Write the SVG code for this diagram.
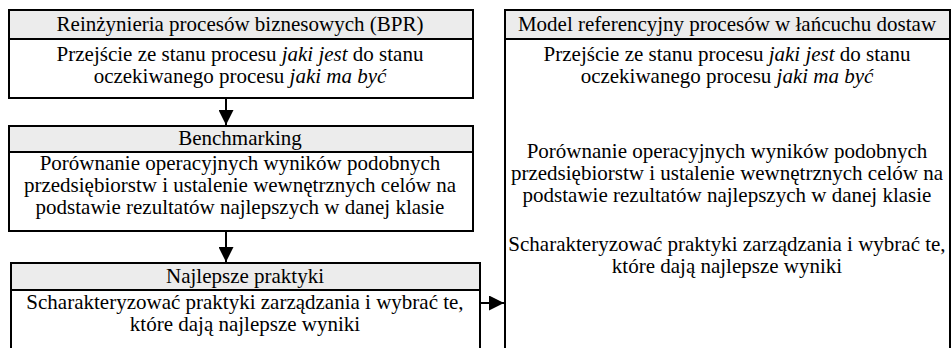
<svg xmlns="http://www.w3.org/2000/svg" width="951" height="348" viewBox="0 0 951 348">
  <style>
    .box { fill: #ffffff; stroke: #000000; stroke-width: 2; }
    .head { fill: #ececec; stroke: #000000; stroke-width: 2; }
    .t { font-family: "Liberation Serif", "Times New Roman", serif; font-size: 21px; fill: #000000; text-anchor: middle; }
    .i { font-style: italic; }
    .edge { stroke: #000000; stroke-width: 2; fill: none; }
  </style>
  <defs>
    <marker id="arrow" viewBox="0 0 10 10" refX="10" refY="5" markerWidth="7.5" markerHeight="7.5" markerUnits="strokeWidth" orient="auto">
      <path d="M0,0 L10,5 L0,10 Z" fill="#000000"/>
    </marker>
  </defs>

  <g id="bpr">
    <rect class="box" x="9" y="10" width="464" height="88"/>
    <rect class="head" x="9" y="10" width="464" height="29"/>
    <text class="t" x="240" y="31">Reinżynieria procesów biznesowych (BPR)</text>
    <text class="t" x="240" y="61">Przejście ze stanu procesu <tspan class="i">jaki jest</tspan> do stanu</text>
    <text class="t" x="240" y="83">oczekiwanego procesu <tspan class="i">jaki ma być</tspan></text>
  </g>

  <g id="benchmarking">
    <rect class="box" x="9" y="126" width="464" height="105"/>
    <rect class="head" x="9" y="126" width="464" height="26"/>
    <text class="t" x="240" y="145">Benchmarking</text>
    <text class="t" x="240" y="170">Porównanie operacyjnych wyników podobnych</text>
    <text class="t" x="240" y="192">przedsiębiorstw i ustalenie wewnętrznych celów na</text>
    <text class="t" x="240" y="214">podstawie rezultatów najlepszych w danej klasie</text>
  </g>

  <g id="best-practices">
    <rect class="box" x="11" y="263" width="469" height="100"/>
    <rect class="head" x="11" y="263" width="469" height="27"/>
    <text class="t" x="245" y="283">Najlepsze praktyki</text>
    <text class="t" x="245" y="309">Scharakteryzować praktyki zarządzania i wybrać te,</text>
    <text class="t" x="245" y="331">które dają najlepsze wyniki</text>
  </g>

  <g id="scor-model">
    <rect class="box" x="505" y="10" width="445" height="360"/>
    <rect class="head" x="505" y="10" width="445" height="29"/>
    <text class="t" x="727" y="31">Model referencyjny procesów w łańcuchu dostaw</text>
    <text class="t" x="727" y="61">Przejście ze stanu procesu <tspan class="i">jaki jest</tspan> do stanu</text>
    <text class="t" x="727" y="83">oczekiwanego procesu <tspan class="i">jaki ma być</tspan></text>
    <text class="t" x="727" y="158">Porównanie operacyjnych wyników podobnych</text>
    <text class="t" x="727" y="180">przedsiębiorstw i ustalenie wewnętrznych celów na</text>
    <text class="t" x="727" y="202">podstawie rezultatów najlepszych w danej klasie</text>
    <text class="t" x="727" y="251">Scharakteryzować praktyki zarządzania i wybrać te,</text>
    <text class="t" x="727" y="273">które dają najlepsze wyniki</text>
  </g>

  <g id="connectors">
    <line class="edge" x1="226" y1="98" x2="226" y2="125" marker-end="url(#arrow)"/>
    <line class="edge" x1="226" y1="231" x2="226" y2="262" marker-end="url(#arrow)"/>
    <line class="edge" x1="480" y1="303" x2="504" y2="303" marker-end="url(#arrow)"/>
  </g>
</svg>
